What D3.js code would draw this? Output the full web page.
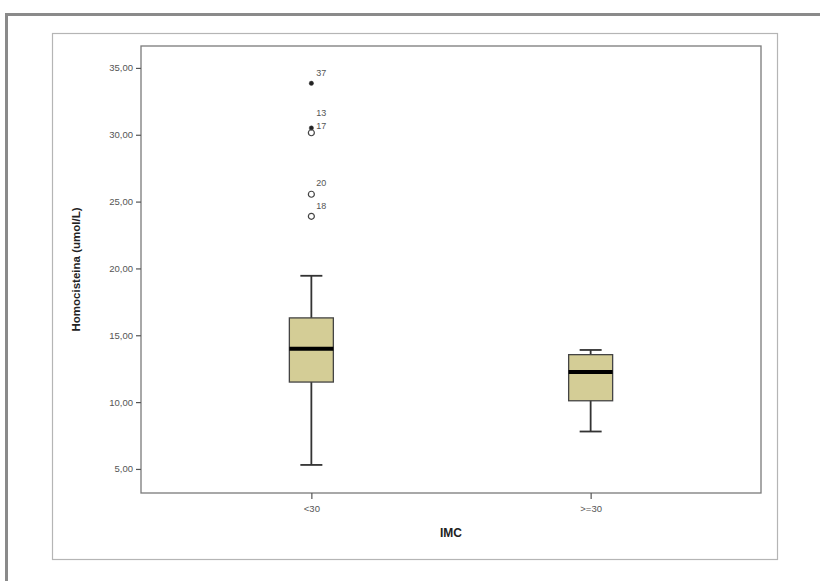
<!DOCTYPE html>
<html>
<head>
<meta charset="utf-8">
<script src="https://cdn.jsdelivr.net/npm/d3@7"></script>
<style>
  body { margin: 0; background: #fff; }
  svg { display: block; }
</style>
</head>
<body>
<div id="chart"></div>
<script>
const W = 820, H = 581;

// data
const groups = ["<30", ">=30"];
const whiskerLow = [5.3, 7.8];
const q1 = [11.5, 10.1];
const median = [14.0, 12.25];
const q3 = [16.3, 13.55];
const whiskerHigh = [19.45, 13.9];
const yTicks = [5, 10, 15, 20, 25, 30, 35];
// outliers (all in "<30"), extreme = star in SPSS
const outLabels = ["37", "13", "17", "20", "18"];
const outValues = [33.85, 30.5, 30.15, 25.55, 23.9];
const outExtreme = [true, true, false, false, false];

const plot = {left: 141, right: 761, top: 46, bottom: 493};

const svg = d3.select("#chart").append("svg")
    .attr("width", W)
    .attr("height", H);

// the grey window frame (top + left)
svg.append("path")
    .attr("d", `M6.5,${H} L6.5,14.5 L${W},14.5`)
    .attr("fill", "none")
    .attr("stroke", "#8a8a8a")
    .attr("stroke-width", 3);

// outer chart box
svg.append("rect")
    .attr("x", 52.5).attr("y", 33.5)
    .attr("width", 725).attr("height", 526)
    .attr("fill", "none")
    .attr("stroke", "#b5b5b5")
    .attr("stroke-width", 1.2);

const x = d3.scalePoint()
    .domain(groups)
    .range([plot.left, plot.right])
    .padding(0.61);

const y = d3.scaleLinear()
    .domain([3.2, 36.64])
    .range([plot.bottom, plot.top]);

// plot frame
svg.append("rect")
    .attr("x", plot.left).attr("y", plot.top)
    .attr("width", plot.right - plot.left)
    .attr("height", plot.bottom - plot.top)
    .attr("fill", "none")
    .attr("stroke", "#7a7a7a")
    .attr("stroke-width", 1.3);

const fmt = d => d3.format(".2f")(d).replace(".", ",");

const yAxis = svg.append("g")
    .attr("transform", `translate(${plot.left},0)`)
    .call(d3.axisLeft(y).tickValues(yTicks).tickFormat(fmt).tickSize(5).tickPadding(3));
yAxis.select(".domain").remove();
yAxis.selectAll("line").attr("stroke", "#555").attr("stroke-width", 1.2);
yAxis.selectAll("text")
    .attr("font-family", "Liberation Sans, Arial, sans-serif")
    .attr("font-size", 9.5)
    .attr("fill", "#555");

const xAxis = svg.append("g")
    .attr("transform", `translate(0,${plot.bottom})`)
    .call(d3.axisBottom(x).tickSize(6).tickPadding(6));
xAxis.select(".domain").remove();
xAxis.selectAll("line").attr("stroke", "#555").attr("stroke-width", 1.2);
xAxis.selectAll("text")
    .attr("font-family", "Liberation Sans, Arial, sans-serif")
    .attr("font-size", 9.5)
    .attr("fill", "#555");

// axis titles
svg.append("text")
    .attr("transform", `translate(80,${(plot.top + plot.bottom) / 2}) rotate(-90)`)
    .attr("text-anchor", "middle")
    .attr("font-family", "Liberation Sans, Arial, sans-serif")
    .attr("font-weight", "bold")
    .attr("font-size", 11.5)
    .attr("fill", "#222")
    .text("Homocisteina (umol/L)");

svg.append("text")
    .attr("x", (plot.left + plot.right) / 2)
    .attr("y", 537)
    .attr("text-anchor", "middle")
    .attr("font-family", "Liberation Sans, Arial, sans-serif")
    .attr("font-weight", "bold")
    .attr("font-size", 12)
    .attr("fill", "#222")
    .text("IMC");

// boxes
const boxW = 44, capW = 22;
const boxes = svg.append("g")
    .selectAll("g")
    .data(groups.map((g, i) => ({g, lo: whiskerLow[i], q1: q1[i], med: median[i], q3: q3[i], hi: whiskerHigh[i]})))
    .join("g")
    .attr("transform", d => `translate(${x(d.g)},0)`);

boxes.append("line")
    .attr("y1", d => y(d.lo)).attr("y2", d => y(d.hi))
    .attr("stroke", "#333").attr("stroke-width", 1.8);

boxes.selectAll(".cap")
    .data(d => [d.lo, d.hi])
    .join("line")
    .attr("class", "cap")
    .attr("x1", -capW / 2).attr("x2", capW / 2)
    .attr("y1", v => y(v)).attr("y2", v => y(v))
    .attr("stroke", "#333").attr("stroke-width", 1.8);

boxes.append("rect")
    .attr("x", -boxW / 2)
    .attr("y", d => y(d.q3))
    .attr("width", boxW)
    .attr("height", d => y(d.q1) - y(d.q3))
    .attr("fill", "#d4cd96")
    .attr("stroke", "#444")
    .attr("stroke-width", 1.3);

boxes.append("line")
    .attr("x1", -boxW / 2).attr("x2", boxW / 2)
    .attr("y1", d => y(d.med)).attr("y2", d => y(d.med))
    .attr("stroke", "#000").attr("stroke-width", 4);

// outliers
const outs = svg.append("g")
    .selectAll("g")
    .data(outLabels.map((l, i) => ({l, v: outValues[i], ext: outExtreme[i]})))
    .join("g")
    .attr("transform", d => `translate(${x("<30")},${y(d.v)})`);

outs.append("circle")
    .attr("r", d => d.ext ? 2.2 : 3)
    .attr("fill", d => d.ext ? "#222" : "none")
    .attr("stroke", "#444")
    .attr("stroke-width", d => d.ext ? 0.5 : 1.2);

outs.append("text")
    .attr("x", 5)
    .attr("y", (d, i) => [-7, -12, -4, -8, -7][i])
    .attr("font-family", "Liberation Sans, Arial, sans-serif")
    .attr("font-size", 9)
    .attr("fill", "#555")
    .text(d => d.l);
</script>
</body>
</html>
